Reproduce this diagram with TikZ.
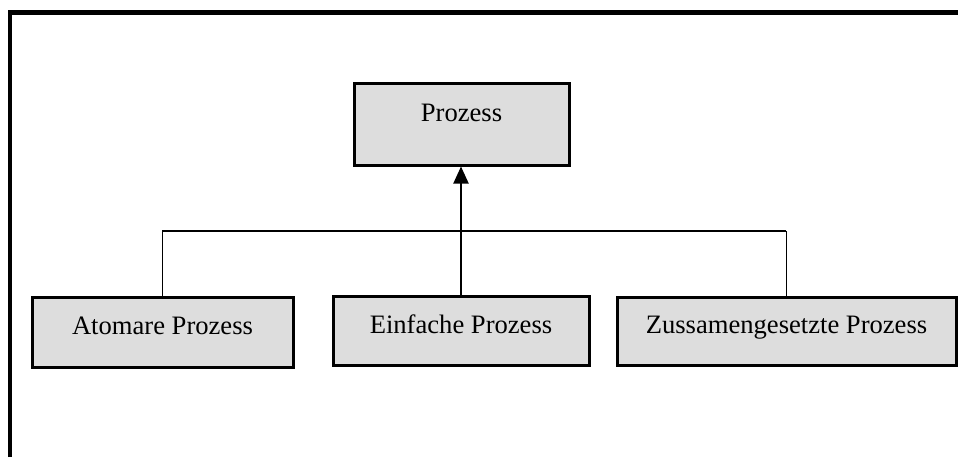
\documentclass[tikz,border=0pt]{standalone}
\usepackage{fontspec}
\setmainfont{Liberation Serif}
\usepackage{tikz}
\usetikzlibrary{calc,positioning,arrows.meta}
\definecolor{kastengrau}{RGB}{221,221,221}

\begin{document}
\begin{tikzpicture}[x=0.5pt,y=-0.5pt]
\tikzstyle{kasten}=[rectangle, draw, line width=1.5pt, fill=kastengrau, inner sep=0pt, font=\fontsize{13.3}{16}\selectfont]
\tikzstyle{linie}=[line width=0.8pt]
\tikzstyle{pfeil}=[line width=1pt, -{Triangle[length=8.5pt,width=7.5pt]}]

\useasboundingbox (0,0) rectangle (958,457);
\draw[line width=2.2pt] (10,457) -- (10,12.5) -- (960,12.5);

\node[kasten, minimum width=107.5pt, minimum height=41pt, text height=10pt, text depth=13pt] (P) at (461.5,124) {Prozess};
\node[kasten, minimum width=130.5pt, minimum height=35pt, text height=10pt, text depth=7.5pt] (A) at (162.5,332) {Atomare Prozess};
\node[kasten, minimum width=128pt, minimum height=34.5pt, text height=10pt, text depth=7.5pt] (E) at (461,330.5) {Einfache Prozess};
\node[kasten, minimum width=169.5pt, minimum height=34pt, text height=10pt, text depth=7.5pt] (Z) at (786.5,331) {Zussamengesetzte Prozess};

\coordinate (L) at (162,231);
\coordinate (R) at (786,231);
\draw[linie] (L) -- (R);
\foreach \k in {A,Z}{\draw[linie] (\k.north) -- (\k.north |- L);}
\draw[pfeil] (E.north) -- (E.north |- P.south);
\end{tikzpicture}
\end{document}
